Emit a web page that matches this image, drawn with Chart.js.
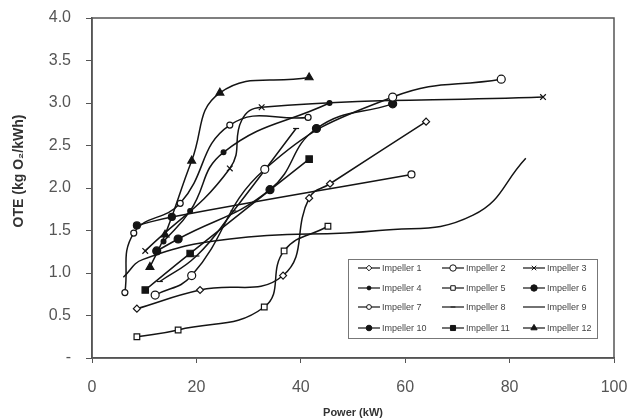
<!DOCTYPE html>
<html>
<head>
<meta charset="utf-8">
<script src="https://cdn.jsdelivr.net/npm/chart.js@4.4.1/dist/chart.umd.min.js"></script>
<style>
html,body{margin:0;padding:0;background:#fff;}
#wrap{width:629px;height:420px;position:relative;}
</style>
</head>
<body>
<div id="wrap"><canvas id="c" width="629" height="420"></canvas></div>
<script>
// ---- data: [power kW, OTE kg O2/kWh] ----
const impeller1  = [[8.6,0.58],[20.7,0.80],[36.6,0.97],[41.6,1.88],[45.6,2.05],[64.0,2.78]];
const impeller2  = [[12.1,0.74],[19.1,0.97],[33.1,2.22],[57.6,3.07],[78.4,3.28]];
const impeller3  = [[10.2,1.26],[26.4,2.23],[28.7,2.80],[32.5,2.95],[86.4,3.07]];
const impeller4  = [[13.7,1.37],[18.8,1.73],[25.2,2.42],[45.5,3.00]];
const impeller5  = [[8.6,0.25],[16.5,0.33],[33.0,0.60],[36.8,1.26],[45.2,1.55]];
const impeller6  = [[12.4,1.26],[16.5,1.40],[34.1,1.98],[43.0,2.70],[57.6,2.99]];
const impeller7  = [[6.3,0.77],[8.0,1.47],[16.9,1.82],[26.4,2.74],[41.4,2.83]];
const impeller8  = [[13.0,0.90],[20.0,1.20],[27.1,1.73],[39.1,2.70]];
const impeller9  = [[6.0,0.95],[9.8,1.16],[26.4,1.40],[55.0,1.50],[73.0,1.68],[83.1,2.35]];
const impeller10 = [[8.6,1.56],[15.3,1.66],[61.2,2.16]];
const impeller11 = [[10.2,0.80],[18.8,1.23],[41.6,2.34]];
const impeller12 = [[11.1,1.07],[14.0,1.45],[19.1,2.32],[24.5,3.12],[41.6,3.30]];

const seriesNames = ['Impeller 1','Impeller 2','Impeller 3','Impeller 4','Impeller 5','Impeller 6',
                     'Impeller 7','Impeller 8','Impeller 9','Impeller 10','Impeller 11','Impeller 12'];
const seriesData = [impeller1,impeller2,impeller3,impeller4,impeller5,impeller6,
                    impeller7,impeller8,impeller9,impeller10,impeller11,impeller12];

const xTicks = [0,20,40,60,80,100];
const yTicks = [0,0.5,1.0,1.5,2.0,2.5,3.0,3.5,4.0];
const xTitle = 'Power (kW)';
const yTitle = 'OTE (kg O₂/kWh)';

// marker styles (style, radius, filled)
const markers = [
  ['rectRot',3.5,false],['circle',4,false],['crossRot',4,false],['circle',2.4,true],
  ['rect',4,false],['circle',4,true],['circle',3,false],['line',3,false],
  [false,0,false],['circle',3.5,true],['rect',4.5,true],['triangle',4.5,true]
];
// points drawn on the line without a visible marker (series index -> point index)
const hiddenMarkers = {2:[2], 8:[0,1,2,3,4,5]};
// points whose marker is drawn hollow although the series is filled
const hollowMarkers = {9:[2]};

const LINE = '#141414';
const FONT = '"Liberation Sans", Arial, sans-serif';
const datasets = seriesData.map((pts,i)=>{
  const m = markers[i];
  return {
    label: seriesNames[i],
    data: pts.map(p=>({x:p[0],y:p[1]})),
    showLine: true,
    borderColor: LINE,
    borderWidth: 1.5,
    tension: 0.45,
    pointStyle: m[0],
    pointRadius: ctx => (hiddenMarkers[i] && hiddenMarkers[i].includes(ctx.dataIndex)) ? 0 : m[1],
    pointBorderColor: LINE,
    pointBorderWidth: 1.2,
    pointBackgroundColor: ctx => (m[2] && !(hollowMarkers[i] && hollowMarkers[i].includes(ctx.dataIndex))) ? LINE : '#ffffff',
    fill: false
  };
});

function drawMarker(ctx, m, x, y){
  if(!m[0]) return;
  const opts = {pointStyle:m[0], radius:m[1]*0.8, borderWidth:1};
  ctx.save();
  ctx.strokeStyle = LINE; ctx.lineWidth = 1;
  ctx.fillStyle = m[2] ? LINE : '#fff';
  if (Chart.helpers && Chart.helpers.drawPoint) {
    Chart.helpers.drawPoint(ctx, opts, x, y);
  }
  ctx.restore();
}

const framePlugin = {
  id:'frame',
  afterDraw(chart){
    const ctx = chart.ctx, ca = chart.chartArea;
    ctx.save();
    ctx.strokeStyle = '#555'; ctx.lineWidth = 1.5;
    ctx.strokeRect(ca.left, ca.top, ca.right-ca.left, ca.bottom-ca.top);
    // y axis title
    ctx.save();
    ctx.translate(19, ca.top + (ca.bottom-ca.top)*0.45);
    ctx.rotate(-Math.PI/2);
    ctx.font = 'bold 14px ' + FONT;
    ctx.fillStyle = '#333';
    ctx.textAlign = 'center'; ctx.textBaseline = 'middle';
    ctx.fillText(yTitle, 0, 0);
    ctx.restore();
    // legend box inside the plot
    const bw = 249, bh = 79;
    const bx = ca.right - 17 - bw, by = ca.bottom - 20 - bh;
    ctx.fillStyle = '#fff';
    ctx.fillRect(bx, by, bw, bh);
    ctx.strokeStyle = '#777'; ctx.lineWidth = 1;
    ctx.strokeRect(bx+0.5, by+0.5, bw, bh);
    ctx.font = '9px ' + FONT;
    ctx.textBaseline = 'middle';
    ctx.textAlign = 'left';
    const colX = [10, 94, 175];
    const rowY = [9, 29, 48, 69];
    for(let i=0;i<12;i++){
      const r = Math.floor(i/3), c = i%3;
      const x0 = bx + colX[c], y0 = by + rowY[r];
      ctx.strokeStyle = LINE; ctx.lineWidth = 1.2;
      ctx.beginPath(); ctx.moveTo(x0, y0); ctx.lineTo(x0+22, y0); ctx.stroke();
      drawMarker(ctx, markers[i], x0+11, y0);
      ctx.fillStyle = '#444';
      ctx.fillText(seriesNames[i], x0+24, y0+0.5);
    }
    ctx.restore();
  }
};

new Chart(document.getElementById('c'), {
  type: 'scatter',
  data: { datasets },
  options: {
    responsive:false,
    animation:false,
    layout:{padding:{left:0,right:15,top:18,bottom:0}},
    plugins:{legend:{display:false},tooltip:{enabled:false}},
    scales:{
      x:{
        type:'linear', min:0, max:100,
        afterBuildTicks(s){ s.ticks = xTicks.map(v=>({value:v})); },
        afterFit(s){ s.height = 62; s.paddingLeft = 0; s.paddingRight = 0; },
        grid:{display:true, drawOnChartArea:false, drawTicks:true, tickLength:5, color:'#555', lineWidth:1},
        border:{display:true, color:'#555', width:1.5},
        ticks:{color:'#555', font:{family:FONT, size:16}, padding:15, maxRotation:0},
        title:{display:true, text:xTitle, color:'#333',
               font:{family:FONT, size:11, weight:'bold'}, padding:{top:4,bottom:0}}
      },
      y:{
        type:'linear', min:0, max:4,
        afterBuildTicks(s){ s.ticks = yTicks.map(v=>({value:v})); },
        afterFit(s){ s.width = 92; s.paddingTop = 0; s.paddingBottom = 0; },
        grid:{display:true, drawOnChartArea:false, drawTicks:true, tickLength:6, color:'#555', lineWidth:1},
        border:{display:true, color:'#555', width:1.5},
        ticks:{color:'#555', font:{family:FONT, size:16}, padding:15,
               callback:v=> v===0 ? '-' : v.toFixed(1)},
        title:{display:false}
      }
    }
  },
  plugins:[framePlugin]
});
</script>
</body>
</html>
